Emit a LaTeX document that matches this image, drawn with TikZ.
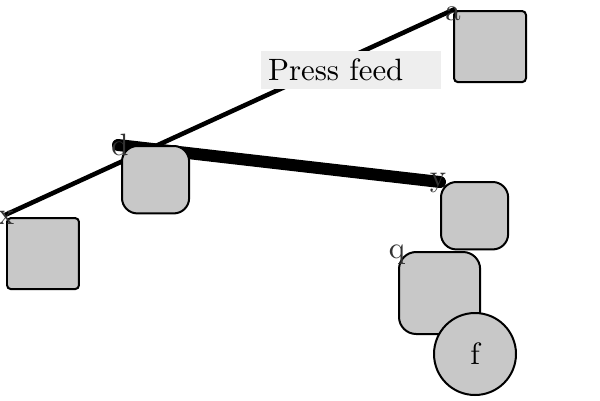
\documentclass[tikz,border=0pt]{standalone}
\usepackage{tikz}
\usetikzlibrary{positioning}

\tikzset{
  cell/.style={draw, line width=0.7pt, fill={rgb,255:red,200;green,200;blue,200},
    anchor=north west, inner sep=0pt},
  sqcell/.style={cell, rounded corners=1.4pt, minimum width=25.2pt, minimum height=24.9pt},
  rdcell/.style={cell, rounded corners=5.4pt, minimum width=23.5pt, minimum height=23.6pt},
  corner/.style={inner sep=0pt, text=black!80, font=\fontsize{10.8}{13}\selectfont},
  thinwire/.style={line width=1.6pt},
  fatwire/.style={line width=4.2pt, line cap=round}
}

\begin{document}
\begin{tikzpicture}[x=0.35pt, y=-0.35pt, font=\fontsize{10.8}{13}\selectfont]
  \useasboundingbox (0,0) rectangle (600,400);

  % corner labels and where the wires end
  \coordinate (pa) at (455,9);
  \coordinate (px) at (5,215);
  \coordinate (pd) at (118,145);
  \coordinate (py) at (440,182);

  % wires
  \draw[thinwire] (px) -- (pa);
  \draw[fatwire] (pd) -- (py);

  % caption
  \node[fill={rgb,255:red,238;green,238;blue,238}, anchor=north west, minimum width=63pt,
    minimum height=13.6pt, inner sep=0pt, text width=63pt, align=left] (press) at (260,50)
    {\hspace*{2.6pt}Press feed};

  % boxes
  \node[sqcell] (boxa) at (453,10) {};
  \node[rdcell] (boxd) at (121,145) {};
  \node[sqcell] (boxx) at (6,217) {};
  \node[rdcell] (boxy) at (440,181) {};
  \node[rdcell, rounded corners=6pt, minimum width=28.4pt, minimum height=28.7pt] (boxq) at (398,251) {};
  \node[draw, line width=0.7pt, fill={rgb,255:red,200;green,200;blue,200}, circle,
    minimum size=28.7pt, inner sep=0pt] (f) at (475,354) {f};

  % labels
  \node[corner] (la) at (453,14) {a};
  \node[corner] (ld) at (120,145) {d};
  \node[corner] (lx) at (6,218) {x};
  \node[corner] (ly) at (438,183) {y};
  \node[corner] (lq) at (397,255) {q};
\end{tikzpicture}
\end{document}
